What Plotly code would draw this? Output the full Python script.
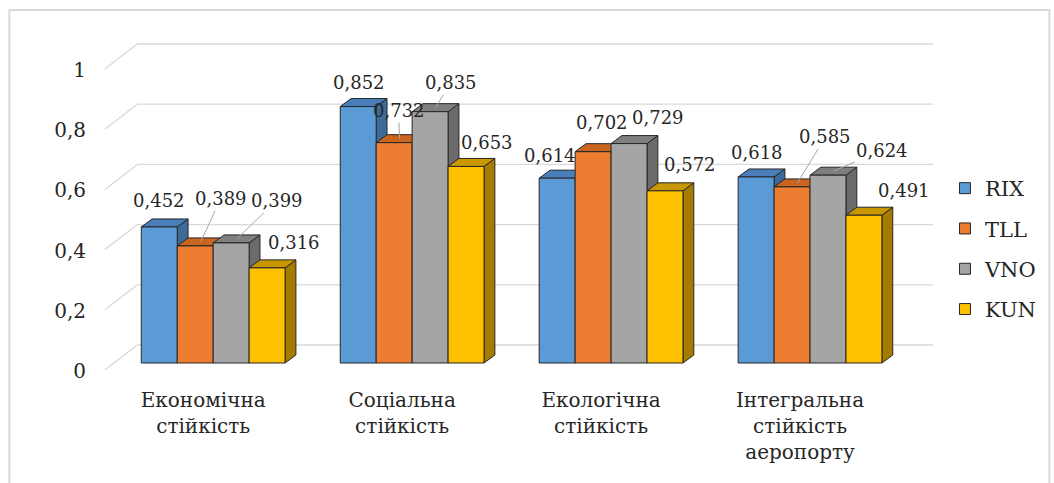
import plotly.graph_objects as go

# ---- data -------------------------------------------------------------
CATEGORIES = [
    "Економічна<br>стійкість",
    "Соціальна<br>стійкість",
    "Екологічна<br>стійкість",
    "Інтегральна<br>стійкість<br>аеропорту",
]
SERIES = ["RIX", "TLL", "VNO", "KUN"]
RIX = [0.452, 0.852, 0.614, 0.618]
TLL = [0.389, 0.732, 0.702, 0.585]
VNO = [0.399, 0.835, 0.729, 0.624]
KUN = [0.316, 0.653, 0.572, 0.491]
Y_TICKS = [0, 0.2, 0.4, 0.6, 0.8, 1]
Y_TICK_LABELS = ["0", "0,2", "0,4", "0,6", "0,8", "1"]

VALUES = [RIX, TLL, VNO, KUN]

# ---- styling ----------------------------------------------------------
FRONT = ["#5B9BD5", "#ED7D31", "#A5A5A5", "#FFC000"]
TOP = ["#4A7EBB", "#C9651F", "#7F7F7F", "#C99800"]
SIDE = ["#3C6B9A", "#B0561A", "#6B6B6B", "#A67C00"]
EDGE = "#262626"
GRID = "#D9D9D9"
TEXT = "#262626"
FONT = "DejaVu Serif"

W, H = 1054, 483
M_L, M_R, M_T, M_B = 95, 99, 25, 103
PLOT_W = W - M_L - M_R
PLOT_H = H - M_T - M_B
CAT_PX = 202.0      # pixels per category step
VAL_PX = 301.0      # pixels per value unit
X0_PX = 215.0       # pixel x of first category centre
Y0_PX = 363.0       # pixel y of value 0 on the bar front plane

X_RANGE = [(M_L - X0_PX) / CAT_PX, (M_L + PLOT_W - X0_PX) / CAT_PX]
Y_RANGE = [(Y0_PX - (M_T + PLOT_H)) / VAL_PX, (Y0_PX - M_T) / VAL_PX]


def dx(px):
    return px / CAT_PX


def dy(px):
    # pixel offset upward -> value units
    return px / VAL_PX


BAR_W = dx(36.5)
DEPTH_X, DEPTH_Y = dx(11), dy(8)
FRONT_SHIFT = (dx(-9), dy(-7))    # front edge of the floor
BACK_SHIFT = (dx(24), dy(18))     # back wall

# label placement (pixels from the centre of each bar's top face)
LABEL_OFFSETS = [
    [(-6, -22), (-5, -20), (-13, -19), (-5, -20)],
    [(20, -43), (-1, -28), (3, -25), (28, -46)],
    [(40, -38), (15, -25), (24, -22), (49, -21)],
    [(21, -21), (16, -20), (20, -22), (35, -21)],
]
LEADERS = [
    [False, False, False, False],
    [True, True, False, True],
    [True, True, False, True],
    [False, False, False, False],
]

fig = go.Figure()


def poly(xs, ys, color):
    fig.add_trace(go.Scatter(
        x=xs + [xs[0]], y=ys + [ys[0]], mode="lines", fill="toself",
        fillcolor=color, line=dict(color=EDGE, width=1),
        hoverinfo="skip", showlegend=False,
    ))


# each 3-D column: side face, top face, then front face, left to right
n_series = len(SERIES)
for j in range(len(CATEGORIES)):
    for i in range(n_series):
        v = VALUES[i][j]
        left = j + (i - n_series / 2) * BAR_W
        right = left + BAR_W
        poly([right, right + DEPTH_X, right + DEPTH_X, right],
             [0, DEPTH_Y, v + DEPTH_Y, v], SIDE[i])
        poly([left, right, right + DEPTH_X, left + DEPTH_X],
             [v, v, v + DEPTH_Y, v + DEPTH_Y], TOP[i])
        poly([left, right, right, left], [0, 0, v, v], FRONT[i])

# legend entries
for i, name in enumerate(SERIES):
    fig.add_trace(go.Scatter(
        x=[None], y=[None], mode="markers", name=name, legendgroup=name,
        marker=dict(symbol="square", size=11, color=FRONT[i],
                    line=dict(color=EDGE, width=1)),
    ))

# gridlines on the back wall and the diagonal floor edges
shapes = []
n_cat = len(CATEGORIES)
for t in Y_TICKS:
    shapes.append(dict(
        type="line", xref="x", yref="y", layer="below",
        x0=-0.5 + BACK_SHIFT[0], x1=n_cat - 0.5 + BACK_SHIFT[0],
        y0=t + BACK_SHIFT[1], y1=t + BACK_SHIFT[1],
        line=dict(color=GRID, width=1.3),
    ))
    shapes.append(dict(
        type="line", xref="x", yref="y", layer="below",
        x0=-0.5 + FRONT_SHIFT[0], x1=-0.5 + BACK_SHIFT[0],
        y0=t + FRONT_SHIFT[1], y1=t + BACK_SHIFT[1],
        line=dict(color=GRID, width=1.3),
    ))

# chart frame
shapes.append(dict(
    type="rect", xref="paper", yref="paper",
    x0=(8 - M_L) / PLOT_W, x1=(W + 10 - M_L) / PLOT_W,
    y0=(M_T + PLOT_H - (H + 10)) / PLOT_H, y1=(M_T + PLOT_H - 10) / PLOT_H,
    line=dict(color=GRID, width=2), fillcolor="rgba(0,0,0,0)",
))

# data labels
annotations = []
for i in range(n_series):
    for j in range(n_cat):
        v = VALUES[i][j]
        left = j + (i - n_series / 2) * BAR_W
        ox, oy = LABEL_OFFSETS[i][j]
        annotations.append(dict(
            x=left + BAR_W / 2 + DEPTH_X / 2, y=v + DEPTH_Y / 2,
            xref="x", yref="y",
            text=f"{v:.3f}".replace(".", ","),
            showarrow=True, ax=ox, ay=oy, axref="pixel", ayref="pixel",
            arrowhead=0, arrowwidth=1,
            arrowcolor="#A6A6A6" if LEADERS[i][j] else "rgba(0,0,0,0)",
            font=dict(family=FONT, size=18, color=TEXT),
        ))

fig.update_layout(
    width=W, height=H,
    margin=dict(l=M_L, r=M_R, t=M_T, b=M_B),
    paper_bgcolor="white", plot_bgcolor="white",
    shapes=shapes, annotations=annotations,
    font=dict(family=FONT, size=20, color=TEXT),
    xaxis=dict(
        range=X_RANGE, showgrid=False, zeroline=False, showline=False,
        tickmode="array", tickvals=list(range(n_cat)), ticktext=CATEGORIES,
        ticks="", ticklabelshift=-10, ticklabelstandoff=6,
        tickfont=dict(family=FONT, size=20, color=TEXT), fixedrange=True,
    ),
    yaxis=dict(
        range=Y_RANGE, showgrid=False, zeroline=False, showline=False,
        tickmode="array", tickvals=Y_TICKS, ticktext=Y_TICK_LABELS,
        ticks="", ticklabelshift=8, ticklabelstandoff=8,
        tickfont=dict(family=FONT, size=20, color=TEXT), fixedrange=True,
    ),
    legend=dict(
        x=(958 - M_L) / PLOT_W, y=(M_T + PLOT_H - 168) / PLOT_H,
        xanchor="left", yanchor="top", tracegroupgap=10,
        font=dict(family=FONT, size=21, color=TEXT),
        bgcolor="rgba(0,0,0,0)",
    ),
    showlegend=True,
)

fig.write_html("out.html")
